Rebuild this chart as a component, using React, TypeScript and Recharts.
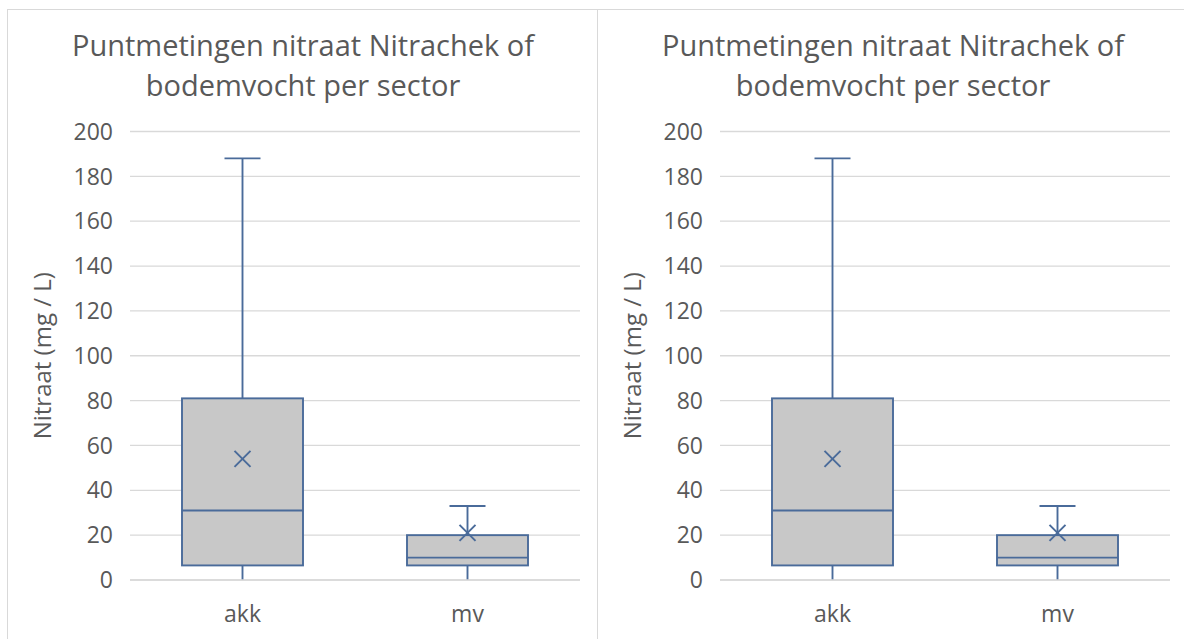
import React from 'react';
import { ComposedChart, Bar, XAxis, YAxis, CartesianGrid } from 'recharts';

const categories = ['akk', 'mv'];
const minValues = [0, 0];
const q1Values = [6.5, 6.5];
const medianValues = [31, 10];
const q3Values = [81, 20];
const maxValues = [188, 33];
const meanValues = [54, 21];
const yTicks = [0, 20, 40, 60, 80, 100, 120, 140, 160, 180, 200];
const titleLines = ['Puntmetingen nitraat Nitrachek of', 'bodemvocht per sector'];
const yAxisTitle = 'Nitraat (mg / L)';

const data = categories.map((c, i) => ({
  name: c,
  range: [minValues[i], maxValues[i]],
  min: minValues[i],
  q1: q1Values[i],
  median: medianValues[i],
  q3: q3Values[i],
  max: maxValues[i],
  mean: meanValues[i],
}));

const BLUE = '#4A6B9A';
const FILL = '#C8C8C8';
const GRID = '#D9D9D9';
const TEXT = '#595959';
const FONT = '"Open Sans", sans-serif';

const BoxShape = (props: any) => {
  const { x, y, width, height, payload } = props;
  const { min, max, q1, q3, median, mean } = payload;
  const px = (v: number) => y + (height * (max - v)) / (max - min);
  const cx = x + width / 2;
  const cap = 18;
  const m = 8;
  const my = px(mean);
  const sw = 1.9;
  return (
    <g>
      <line x1={cx} x2={cx} y1={px(max)} y2={px(q3)} stroke={BLUE} strokeWidth={sw} />
      <line x1={cx} x2={cx} y1={px(q1)} y2={px(min)} stroke={BLUE} strokeWidth={sw} />
      <line x1={cx - cap} x2={cx + cap} y1={px(max)} y2={px(max)} stroke={BLUE} strokeWidth={sw} />
      <rect x={x} y={px(q3)} width={width} height={px(q1) - px(q3)} fill={FILL} stroke={BLUE} strokeWidth={sw} />
      <line x1={x} x2={x + width} y1={px(median)} y2={px(median)} stroke={BLUE} strokeWidth={sw} />
      <line x1={cx - m} x2={cx + m} y1={my - m} y2={my + m} stroke={BLUE} strokeWidth={sw} />
      <line x1={cx - m} x2={cx + m} y1={my + m} y2={my - m} stroke={BLUE} strokeWidth={sw} />
    </g>
  );
};

const AxisTitle = (props: any) => {
  const vb = props.viewBox || {};
  const cy = vb.y + vb.height / 2;
  const cx = 34;
  return (
    <text
      x={cx}
      y={cy}
      transform={`rotate(-90, ${cx}, ${cy})`}
      textAnchor="middle"
      dominantBaseline="central"
      fill={TEXT}
      fontSize={24}
      fontFamily={FONT}
    >
      {yAxisTitle}
    </text>
  );
};

const Panel = ({ left }: { left: number }) => (
  <div
    style={{
      position: 'absolute',
      left,
      top: 9,
      width: 590,
      height: 630,
      borderLeft: `1px solid ${GRID}`,
      borderTop: `1px solid ${GRID}`,
      boxSizing: 'border-box',
    }}
  >
    <div
      style={{
        position: 'absolute',
        left: 0,
        top: 14.75,
        width: 590,
        textAlign: 'center',
        fontFamily: FONT,
        fontSize: 29,
        lineHeight: '40px',
        color: TEXT,
        whiteSpace: 'nowrap',
      }}
    >
      {titleLines.map((t) => (
        <div key={t}>{t}</div>
      ))}
    </div>
    <div style={{ position: 'absolute', left: -1, top: -1 }}>
      <ComposedChart
        width={590}
        height={630}
        data={data}
        margin={{ top: 122.5, right: 17, left: 0, bottom: 9 }}
        barCategoryGap="23%"
      >
        <CartesianGrid vertical={false} stroke={GRID} strokeWidth={1.3} />
        <XAxis
          dataKey="name"
          axisLine={{ stroke: GRID, strokeWidth: 1.3 }}
          tickLine={false}
          tickMargin={20}
          height={50}
          tick={{ fill: TEXT, fontSize: 23, fontFamily: FONT }}
        />
        <YAxis
          domain={[0, 200]}
          ticks={yTicks}
          interval={0}
          width={123}
          axisLine={false}
          tickLine={false}
          tickMargin={11}
          tick={{ fill: TEXT, fontSize: 23, fontFamily: FONT }}
          label={<AxisTitle />}
        />
        <Bar dataKey="range" barSize={121} shape={<BoxShape />} isAnimationActive={false} />
      </ComposedChart>
    </div>
  </div>
);

export default function App() {
  return (
    <div style={{ position: 'absolute', left: 0, top: 0, width: 1184, height: 639, background: '#fff', overflow: 'hidden' }}>
      <Panel left={7} />
      <Panel left={597} />
    </div>
  );
}
